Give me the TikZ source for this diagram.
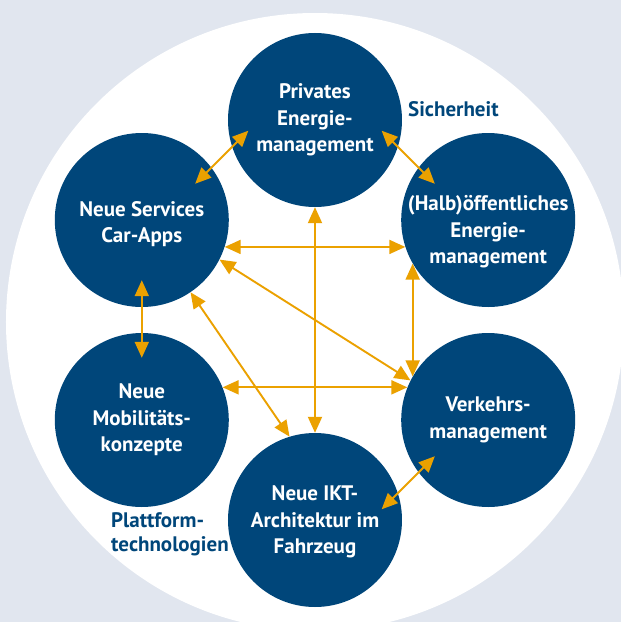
\documentclass[tikz,border=0pt]{standalone}
\usepackage{fontspec}
\setmainfont{PT Sans}
\usetikzlibrary{arrows.meta}

\definecolor{bgray}{HTML}{E1E6EF}
\definecolor{dblue}{HTML}{00467A}
\definecolor{lorange}{HTML}{EBA100}

\tikzset{
    topic/.style={circle, fill=dblue, minimum size=174pt, inner sep=0pt},
    topictext/.style={text=white, align=center, inner sep=0pt,
        font=\bfseries\fontsize{21}{26.5}\selectfont},
    tag/.style={text=dblue, align=left, inner sep=0pt,
        font=\bfseries\fontsize{21}{24}\selectfont},
    link/.style={lorange, line width=1.9pt,
        {Triangle[length=16pt,width=14pt]}-{Triangle[length=16pt,width=14pt]}},
}

\begin{document}
\begin{tikzpicture}[x=1pt,y=1pt]
    % Background:
    % grey page with the big white disc, cut off at the bottom
    \useasboundingbox (-315,-302) rectangle (306,320);
    \fill [bgray] (-315,-302) rectangle (306,320);
    \begin{scope}
        \clip (-315,-302) rectangle (306,320);
        \fill [white] (0,-2) circle (309);
    \end{scope}

    % Topics:
    % six circles sitting on a hexagon of radius 200 round the middle,
    % the text is set a bit lower in some of them
    \foreach \name/\ang/\dy/\txt in {
        priv/90/0/{Privates\\Energie-\\management},
        serv/150/-4/{Neue Services\\Car-Apps},
        halb/30/-12/{(Halb)öffentliches\\Energie-\\management},
        mobil/210/0/{Neue\\Mobilitäts-\\konzepte},
        verk/330/0/{Verkehrs-\\management},
        ikt/270/-2/{Neue IKT-\\Architektur im\\Fahrzeug}}{%
        \node [topic] (\name) at (\ang:200) {};
        \node [topictext] (\name-txt) at ([yshift=\dy pt]\name.center) {\txt};
    }

    % Side labels
    \node [tag, anchor=west] (sich) at (93,211) {Sicherheit};
    \node [tag, anchor=west] (platt) at (-204,-214) {Plattform-\\technologien};

    % Links:
    % the slanted short ones reach into the circles, so they are lengthened
    \draw [link, shorten <=-23pt, shorten >=-23pt] (priv.198) -- (serv.37);
    \draw [link, shorten <=-23pt, shorten >=-23pt] (priv.342) -- (halb.143);
    \draw [link, shorten <=-23pt, shorten >=-23pt] (ikt.18) -- (verk.217);
    \draw [link, shorten <=-27pt, shorten >=-25pt] (serv.south) -- (mobil.north);
    % the long ones go from rim to rim
    \draw [link] (serv.342) -- (halb.198);
    \draw [link] (mobil.22) -- (verk.158);
    \draw [link] (priv.south) -- (ikt.north);
    \draw [link] (halb.210) -- (verk.150);
    \draw [link] (serv.333) -- (verk.153);
    \draw [link] (serv.304) -- (ikt.107);
\end{tikzpicture}
\end{document}
